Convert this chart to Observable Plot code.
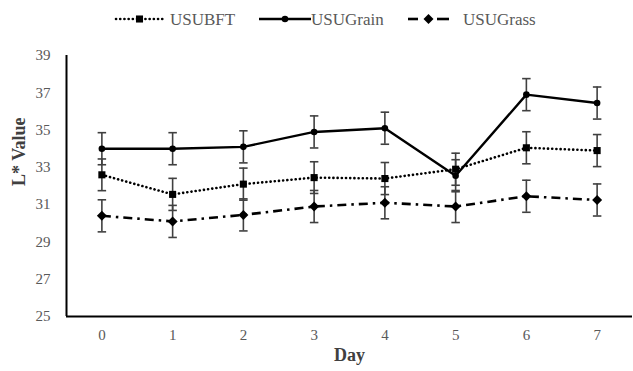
<!DOCTYPE html>
<html>
<head>
<meta charset="utf-8">
<script src="https://cdn.jsdelivr.net/npm/d3@7"></script>
<script src="https://cdn.jsdelivr.net/npm/@observablehq/plot@0.6"></script>
<style>
  html, body { margin: 0; padding: 0; background: #fff; }
  #wrap { width: 633px; font-family: "Liberation Serif", "Times New Roman", serif; }
  #legend { position: relative; height: 30px; }
  #legend svg { display: block; }
</style>
</head>
<body>
<div id="wrap">
  <div id="legend"></div>
  <div id="chart"></div>
</div>
<script>
// Storage day
const days = [0, 1, 2, 3, 4, 5, 6, 7];

// Mean L* per treatment
const usubft   = [32.6, 31.55, 32.1, 32.45, 32.4, 32.9, 34.05, 33.9];
const usugrain = [34.0, 34.0, 34.1, 34.9, 35.1, 32.55, 36.9, 36.45];
const usugrass = [30.4, 30.1, 30.45, 30.9, 31.1, 30.9, 31.45, 31.25];

// Standard errors
const usubftErr   = [0.85, 0.86, 0.86, 0.85, 0.86, 0.86, 0.86, 0.86];
const usugrainErr = [0.86, 0.86, 0.86, 0.86, 0.86, 0.86, 0.86, 0.86];
const usugrassErr = [0.86, 0.86, 0.86, 0.86, 0.86, 0.86, 0.86, 0.86];

const yTicks = [25, 27, 29, 31, 33, 35, 37, 39];

const seriesNames = ["USUBFT", "USUGrain", "USUGrass"];

// Even-sided filled diamond marker
const diamondSym = {
  draw(context, size) {
    const h = Math.sqrt(size / 2);
    context.moveTo(0, -h);
    context.lineTo(h, 0);
    context.lineTo(0, h);
    context.lineTo(-h, 0);
    context.closePath();
  }
};

const styles = {
  USUBFT:   {dash: "0.1,4.1",  width: 2.6, cap: "round", symbol: "square", r: 4.0},
  USUGrain: {dash: null,       width: 2.4, cap: "butt",  symbol: "circle", r: 3.3},
  USUGrass: {dash: "9,5,2.5,5", width: 2.6, cap: "butt", symbol: diamondSym, r: 4.0}
};

const table = [];
[[usubft, usubftErr, "USUBFT"], [usugrain, usugrainErr, "USUGrain"], [usugrass, usugrassErr, "USUGrass"]]
  .forEach(([vals, errs, name]) => {
    days.forEach((d, i) => table.push({series: name, day: d, value: vals[i], lo: vals[i] - errs[i], hi: vals[i] + errs[i]}));
  });

const capHalf = 0.06; // half-width of error-bar caps, in days
const errColor = "#404040";
const textColor = "#595959";

const marks = [
  Plot.ruleY([25], {stroke: "#000", strokeWidth: 2}),
  Plot.ruleX([-0.5], {stroke: "#000", strokeWidth: 2}),
  // error bars
  Plot.ruleX(table, {x: "day", y1: "lo", y2: "hi", stroke: errColor, strokeWidth: 1.6}),
  Plot.link(table, {x1: d => d.day - capHalf, x2: d => d.day + capHalf, y1: "hi", y2: "hi", stroke: errColor, strokeWidth: 1.6}),
  Plot.link(table, {x1: d => d.day - capHalf, x2: d => d.day + capHalf, y1: "lo", y2: "lo", stroke: errColor, strokeWidth: 1.6})
];

for (const name of seriesNames) {
  const s = styles[name];
  const rows = table.filter(d => d.series === name);
  marks.push(Plot.line(rows, {
    x: "day", y: "value", stroke: "#000", strokeWidth: s.width,
    strokeDasharray: s.dash, strokeLinecap: s.cap
  }));
  marks.push(Plot.dot(rows, {x: "day", y: "value", symbol: s.symbol, r: s.r, fill: "#000", stroke: "none"}));
}

marks.push(
  Plot.axisX({ticks: days, tickSize: 0, tickPadding: 13, tickFormat: d3.format("d"),
    fontSize: 15, fill: textColor, label: null}),
  Plot.axisY({ticks: yTicks, tickSize: 0, tickPadding: 16, fontSize: 15, fill: textColor, label: null}),
  Plot.text(["Day"], {frameAnchor: "bottom", dy: 44, fontSize: 18, fontWeight: "bold", fill: "#404040"}),
  Plot.text(["L* Value"], {frameAnchor: "left", dx: -47, rotate: -90, fontSize: 18, fontWeight: "bold", fill: "#404040"})
);

const chart = Plot.plot({
  width: 633,
  height: 341,
  marginLeft: 66,
  marginRight: 1,
  marginTop: 25,
  marginBottom: 55,
  style: {fontFamily: "Liberation Serif, Times New Roman, serif", background: "#fff", overflow: "visible"},
  x: {type: "linear", domain: [-0.5, 7.5]},
  y: {domain: [25, 39]},
  marks
});
document.getElementById("chart").appendChild(chart);

// Legend above the plot, drawn as a small SVG strip
const legendItems = [
  {name: "USUBFT",   x0: 116, x1: 163, tx: 170},
  {name: "USUGrain", x0: 259, x1: 311, tx: 311},
  {name: "USUGrass", x0: 408, x1: 449, tx: 463}
];
const lg = d3.select("#legend").append("svg").attr("width", 633).attr("height", 30)
  .style("font-family", "Liberation Serif, Times New Roman, serif");
const symPath = {
  square: d3.symbol(d3.symbolSquare, 50)(),
  circle: d3.symbol(d3.symbolCircle, 34)(),
  diamond: d3.symbol(diamondSym, 50)()
};
const cy = 19;
for (const it of legendItems) {
  const s = styles[it.name];
  const mid = (it.x0 + it.x1) / 2;
  if (it.name === "USUGrass") {
    lg.append("line").attr("x1", it.x0).attr("x2", it.x0 + 10).attr("y1", cy).attr("y2", cy)
      .attr("stroke", "#000").attr("stroke-width", s.width);
    lg.append("line").attr("x1", it.x1 - 12).attr("x2", it.x1).attr("y1", cy).attr("y2", cy)
      .attr("stroke", "#000").attr("stroke-width", s.width);
  } else {
    const ln = lg.append("line").attr("x1", it.x0).attr("x2", it.x1).attr("y1", cy).attr("y2", cy)
      .attr("stroke", "#000").attr("stroke-width", s.width).attr("stroke-linecap", s.cap);
    if (s.dash) ln.attr("stroke-dasharray", s.dash);
  }
  const key = it.name === "USUBFT" ? "square" : it.name === "USUGrain" ? "circle" : "diamond";
  lg.append("path").attr("d", symPath[key]).attr("transform", `translate(${mid},${cy})`).attr("fill", "#000");
  lg.append("text").attr("x", it.tx).attr("y", cy).attr("dy", "0.35em")
    .attr("font-size", 17).attr("fill", textColor).text(it.name);
}
</script>
</body>
</html>
